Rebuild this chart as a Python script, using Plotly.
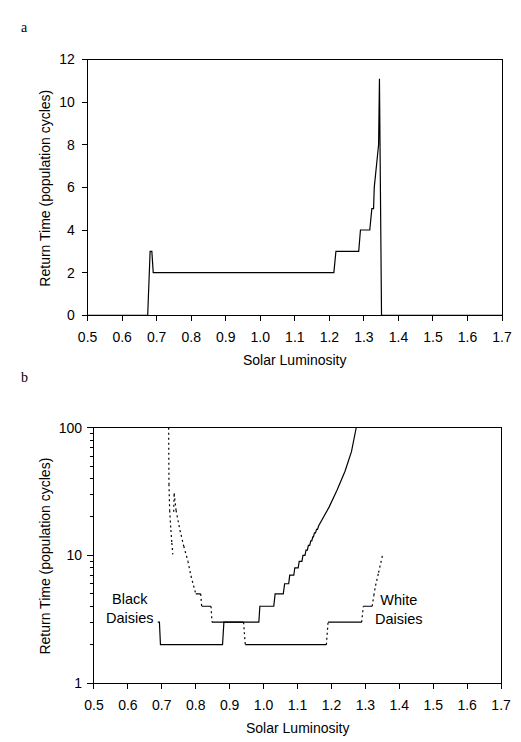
import plotly.graph_objects as go

W, H = 521, 742

# ---------------- data ----------------
# Panel a: whole system return time vs solar luminosity
a_lum = [0.500, 0.674, 0.681, 0.686, 0.690, 1.213, 1.219, 1.285, 1.290, 1.317,
         1.323, 1.328, 1.330, 1.3425, 1.345, 1.351, 1.700]
a_rt = [0, 0, 3, 3, 2, 2, 3, 3, 4, 4,
        5, 5, 6, 8, 11.1, 0, 0]

# Panel b: black daisies (solid)
black_lum = [0.688, 0.693, 0.696, 0.879, 0.883, 0.986, 0.989, 1.030, 1.034, 1.058,
             1.062, 1.074, 1.077, 1.089, 1.092, 1.102, 1.105, 1.113, 1.116, 1.122,
             1.125, 1.129, 1.132, 1.136, 1.139, 1.142, 1.145, 1.147, 1.150, 1.153,
             1.156, 1.159, 1.162, 1.174, 1.193, 1.216, 1.240, 1.259, 1.273]
black_rt = [3, 3, 2, 2, 3, 3, 4, 4, 5, 5,
            6, 6, 7, 7, 8, 8, 9, 9, 10, 10,
            11, 11, 12, 12, 13, 13, 14, 14, 15, 15,
            16, 16, 17, 19.4, 23.9, 32.2, 45.6, 65, 100]

# Panel b: white daisies (dotted), two branches
white1_lum = [0.7202, 0.7211, 0.7231, 0.7268, 0.7296, 0.7324]
white1_rt = [100, 36.1, 22.5, 15.8, 12.5, 10.2]

white2_lum = [0.7350, 0.7364, 0.742, 0.7534, 0.7647, 0.777, 0.786, 0.800, 0.8146, 0.8175,
              0.845, 0.848, 0.941, 0.946, 1.185, 1.190, 1.289, 1.294, 1.320, 1.325,
              1.330, 1.339, 1.350]
white2_rt = [22, 30.6, 22.5, 15.8, 11.8, 9.0, 6.9, 5.0, 5.0, 4,
             4, 3, 3, 2, 2, 3, 3, 4, 4, 4.87,
             5.8, 7.35, 9.9]

x_ticks = [0.5, 0.6, 0.7, 0.8, 0.9, 1.0, 1.1, 1.2, 1.3, 1.4, 1.5, 1.6, 1.7]
a_yticks = [0, 2, 4, 6, 8, 10, 12]
b_yticks = [1, 10, 100]
b_minor = [2, 3, 4, 5, 6, 7, 8, 9, 20, 30, 40, 50, 60, 70, 80, 90]

# ---------------- helpers ----------------
def px_x(p):
    return p / W

def px_y(p):
    return 1 - p / H

def split_segments(xs, ys):
    """Flat steps are drawn solid, sloped parts dotted (as in the original)."""
    sx, sy, dx, dy = [], [], [], []
    for i in range(len(xs) - 1):
        if ys[i] == ys[i + 1]:
            sx += [xs[i], xs[i + 1], None]
            sy += [ys[i], ys[i + 1], None]
        else:
            dx += [xs[i], xs[i + 1], None]
            dy += [ys[i], ys[i + 1], None]
    return sx, sy, dx, dy

FONT = "Liberation Sans, Arial, sans-serif"
LW = 1.2

fig = go.Figure()

fig.add_trace(go.Scatter(x=a_lum, y=a_rt, mode="lines", xaxis="x", yaxis="y",
                         line=dict(color="black", width=LW), showlegend=False))

fig.add_trace(go.Scatter(x=black_lum, y=black_rt, mode="lines", xaxis="x2", yaxis="y2",
                         line=dict(color="black", width=LW), showlegend=False))

for xs, ys in [(white1_lum, white1_rt), (white2_lum, white2_rt)]:
    sx, sy, dx, dy = split_segments(xs, ys)
    if sx:
        fig.add_trace(go.Scatter(x=sx, y=sy, mode="lines", xaxis="x2", yaxis="y2",
                                 line=dict(color="black", width=LW), showlegend=False))
    if dx:
        fig.add_trace(go.Scatter(x=dx, y=dy, mode="lines", xaxis="x2", yaxis="y2",
                                 line=dict(color="black", width=LW, dash="2px,3px"),
                                 showlegend=False))

axis_common = dict(showgrid=False, zeroline=False, showline=True, linecolor="black",
                   linewidth=1, mirror=True, ticks="outside", tickcolor="black",
                   tickwidth=1, tickfont=dict(family=FONT, size=14, color="black"))

fig.update_layout(
    width=W, height=H,
    margin=dict(l=0, r=0, t=0, b=0),
    paper_bgcolor="white", plot_bgcolor="white",
    xaxis=dict(domain=[px_x(80.7), px_x(511.7)], range=[0.5, 1.7], anchor="y",
               tickvals=x_ticks, tickformat=".1f", ticklen=5, ticklabelstandoff=4,
               **axis_common),
    yaxis=dict(domain=[px_y(314), px_y(52.7)], range=[0, 12], anchor="x",
               tickvals=a_yticks, ticklen=5, ticklabelstandoff=4, **axis_common),
    xaxis2=dict(domain=[px_x(87.3), px_x(510.7)], range=[0.5, 1.7], anchor="y2",
                tickvals=x_ticks, tickformat=".1f", ticklen=5, ticklabelstandoff=4,
                **axis_common),
    yaxis2=dict(domain=[px_y(690), px_y(429)], type="log", range=[0, 2], anchor="x2",
                tickvals=b_yticks, ticktext=[str(v) for v in b_yticks], ticklen=6,
                ticklabelstandoff=2,
                minor=dict(tickvals=b_minor, ticks="outside", ticklen=3,
                           tickcolor="black", tickwidth=1, showgrid=False),
                **axis_common),
)

ann = []
def text(x, y, s, size=14, family=FONT, angle=0):
    ann.append(dict(x=px_x(x), y=px_y(y), xref="paper", yref="paper", text=s,
                    showarrow=False, textangle=angle, xanchor="center", yanchor="middle",
                    align="center", font=dict(family=family, size=size, color="black")))

text(15, 20, "a", size=14, family="Liberation Serif, Times New Roman, serif")
text(15, 378, "b", size=14, family="Liberation Serif, Times New Roman, serif")
text(296, 360, "Solar Luminosity")
text(299, 736, "Solar Luminosity")
text(36, 184, "Return Time (population cycles)", angle=-90)
text(36, 560, "Return Time (population cycles)", angle=-90)
text(125, 614, "Black<br>Daisies", size=14.5)
text(405, 615, "White<br>Daisies", size=14.5)

fig.update_layout(annotations=ann)

fig.write_html("out.html")
